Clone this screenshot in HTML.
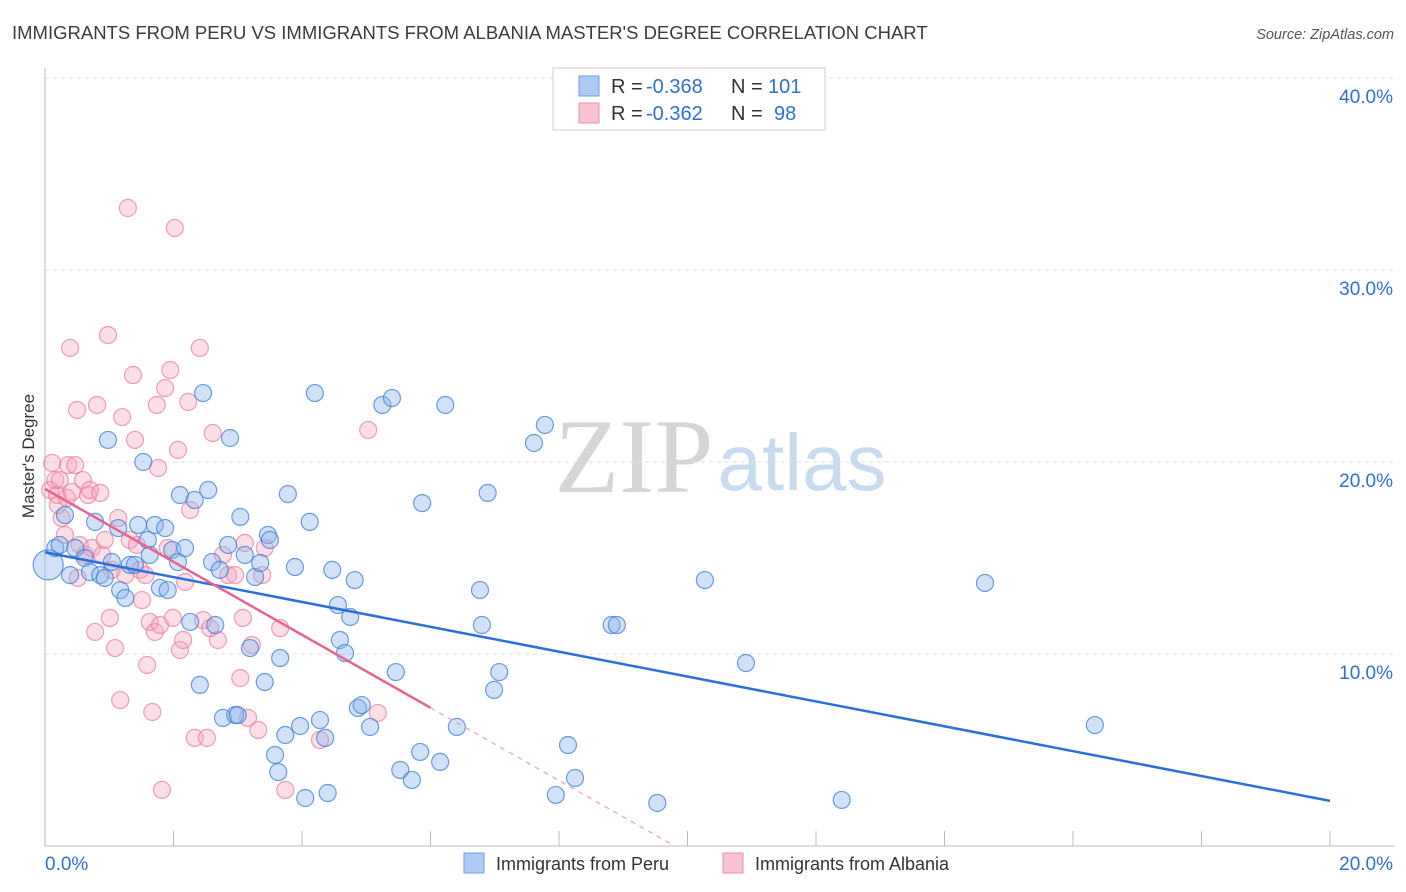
<!DOCTYPE html>
<html><head><meta charset="utf-8"><style>
body{margin:0;background:#fff;font-family:"Liberation Sans",sans-serif}
svg{display:block}
</style></head><body>
<svg id="c" width="1406" height="892">
<text x="12" y="39" font-size="18.5" fill="#3c3c3c">IMMIGRANTS FROM PERU VS IMMIGRANTS FROM ALBANIA MASTER'S DEGREE CORRELATION CHART</text>
<text x="1394" y="39" font-size="14.5" fill="#555" font-style="italic" text-anchor="end">Source: ZipAtlas.com</text>
<text x="34" y="456" font-size="17" fill="#333" text-anchor="middle" transform="rotate(-90 34 456)">Master's Degree</text>
<g><text x="634" y="492" font-size="106" fill="#d6d6d6" font-family="Liberation Serif,serif" text-anchor="middle">ZIP</text><text x="802" y="490" font-size="80" fill="#c9dcef" text-anchor="middle">atlas</text></g>
<g id="grid"></g><g id="marks"></g><g id="lines"></g>
<g>
<rect x="553" y="68" width="272" height="62" fill="#fff" stroke="#ccc"/>
<rect x="579" y="76" width="20" height="20" fill="#aecbf3" stroke="#6fa0e0"/>
<rect x="579" y="103" width="20" height="20" fill="#f9c2d2" stroke="#ee8fac"/>
<text x="611" y="93" font-size="20" fill="#333">R = </text><text x="646" y="93" font-size="20" fill="#2f6fd6">-0.368</text>
<text x="731" y="93" font-size="20" fill="#333">N = </text><text x="768" y="93" font-size="20" fill="#2f6fd6">101</text>
<text x="611" y="120" font-size="20" fill="#333">R = </text><text x="646" y="120" font-size="20" fill="#2f6fd6">-0.362</text>
<text x="731" y="120" font-size="20" fill="#333">N = </text><text x="774" y="120" font-size="20" fill="#2f6fd6">98</text>
</g>
<g>
<rect x="464" y="853" width="20" height="20" fill="#aecbf3" stroke="#6fa0e0"/>
<text x="496" y="870" font-size="18" fill="#333">Immigrants from Peru</text>
<rect x="723" y="853" width="20" height="20" fill="#f9c2d2" stroke="#ee8fac"/>
<text x="755" y="870" font-size="18" fill="#333">Immigrants from Albania</text>
</g>
</svg>
<script>
const yTicks=[10,20,30,40];
const yTickLabels=["10.0%","20.0%","30.0%","40.0%"];
const xTickLabels=["0.0%","20.0%"];
const peruPx=[[48,565],[55,548],[60,545],[65,515],[70,575],[75,548],[85,558],[90,572],[95,522],[100,575],[105,578],[108,440],[112,562],[118,528],[120,590],[125,598],[130,565],[135,565],[138,525],[143,462],[148,540],[150,555],[155,525],[160,588],[165,528],[168,590],[172,550],[178,562],[180,495],[185,548],[190,622],[195,500],[200,685],[203,393],[208,490],[212,562],[215,625],[220,570],[223,718],[228,545],[230,438],[235,715],[238,715],[240,517],[245,555],[250,648],[255,577],[260,563],[265,682],[268,535],[270,540],[275,755],[278,772],[280,658],[285,735],[288,494],[295,567],[300,726],[305,798],[310,522],[315,393],[320,720],[325,738],[328,793],[332,570],[338,605],[340,640],[345,653],[350,617],[355,580],[358,708],[362,705],[370,727],[382,405],[392,398],[396,672],[400,770],[412,780],[420,752],[422,503],[440,762],[445,405],[457,727],[480,590],[482,625],[488,493],[494,690],[499,672],[534,443],[545,425],[556,795],[568,745],[575,778],[612,625],[617,625],[657,803],[705,580],[746,663],[842,800],[985,583],[1095,725]];
const albPx=[[50,490],[52,463],[55,480],[57,495],[58,505],[60,480],[62,518],[65,535],[67,498],[68,465],[70,348],[72,492],[75,465],[77,410],[78,578],[80,545],[83,480],[85,555],[88,495],[90,490],[92,548],[95,632],[97,405],[100,493],[102,555],[105,540],[108,335],[110,618],[112,570],[115,648],[118,518],[120,700],[122,417],[125,575],[128,208],[130,540],[133,375],[135,440],[137,545],[140,570],[142,600],[145,575],[147,665],[150,622],[152,712],[155,632],[157,405],[158,468],[160,625],[162,790],[165,388],[168,548],[170,370],[173,618],[175,228],[178,450],[180,650],[183,640],[185,582],[188,402],[190,510],[195,738],[200,348],[203,620],[207,738],[210,628],[213,433],[218,640],[223,555],[228,575],[235,575],[240,678],[243,618],[245,543],[248,718],[252,645],[258,730],[262,575],[265,548],[280,628],[285,790],[320,740],[368,430],[378,713]];
const peruX=peruPx.map(p=>+((p[0]-45)/64.25).toFixed(2)), peruY=peruPx.map(p=>+((846-p[1])/19.2).toFixed(2));
const albX=albPx.map(p=>+((p[0]-45)/64.25).toFixed(2)), albY=albPx.map(p=>+((846-p[1])/19.2).toFixed(2));
const peruTrend=[[0,15.3],[20,2.35]];
const albTrend=[[0,18.6],[6,7.2],[9.8,0]];
const X=v=>45+v*64.25, Y=v=>846-v*19.2;
const NS="http://www.w3.org/2000/svg";
function mk(t,a,p){const e=document.createElementNS(NS,t);for(const k in a)e.setAttribute(k,a[k]);p.appendChild(e);return e;}
const grid=document.getElementById('grid');
yTicks.forEach((t,i)=>{
 const l=mk('line',{x1:45,x2:1395,y1:Y(t),y2:Y(t),stroke:'#ddd','stroke-dasharray':'4,4'},grid);
 
 
 const tx=mk('text',{x:1393,y:Y(t)+25,'font-size':19,fill:'#2f6fd6','text-anchor':'end'},grid);tx.textContent=yTickLabels[i];
 
 
});
const ax=mk('line',{x1:45,x2:1395,y1:846,y2:846,stroke:'#bbb'},grid);


const ay=mk('line',{x1:45,x2:45,y1:68,y2:846,stroke:'#bbb'},grid);


for(let i=0;i<=10;i++){const t=mk('line',{x1:X(i*2),x2:X(i*2),y1:831,y2:846,stroke:'#bbb'},grid);
 
 }
[[0,45,'start'],[20,1393,'end']].forEach((d,i)=>{const t=mk('text',{x:d[1],y:870,'font-size':19,fill:'#2f6fd6','text-anchor':d[2]},grid);t.textContent=xTickLabels[i];
 
 });
const marks=document.getElementById('marks');
function pts(xs,ys,fill,stroke,name){xs.forEach((x,i)=>{const r=(i===0&&name==='peru-point')?15:8.5;
 const c=mk('circle',{cx:X(x),cy:Y(ys[i]),r:r,fill:fill,stroke:stroke,'stroke-width':1.2},marks);
 
 });}
pts(albX,albY,'rgba(246,160,186,0.35)','rgba(234,120,155,0.7)','albania-point');
pts(peruX,peruY,'rgba(140,182,238,0.4)','rgba(60,125,215,0.75)','peru-point');
const lines=document.getElementById('lines');
const pl=mk('line',{x1:X(peruTrend[0][0]),y1:Y(peruTrend[0][1]),x2:X(peruTrend[1][0]),y2:Y(peruTrend[1][1]),stroke:'#2b6fd8','stroke-width':2.5},lines);


const al=mk('line',{x1:X(albTrend[0][0]),y1:Y(albTrend[0][1]),x2:X(albTrend[1][0]),y2:Y(albTrend[1][1]),stroke:'#e8648e','stroke-width':2.5},lines);


const ad=mk('line',{x1:X(albTrend[1][0]),y1:Y(albTrend[1][1]),x2:X(albTrend[2][0]),y2:Y(albTrend[2][1]),stroke:'#e8a0b6','stroke-width':1.2,'stroke-dasharray':'5,5'},lines);


</script>
</body></html>
